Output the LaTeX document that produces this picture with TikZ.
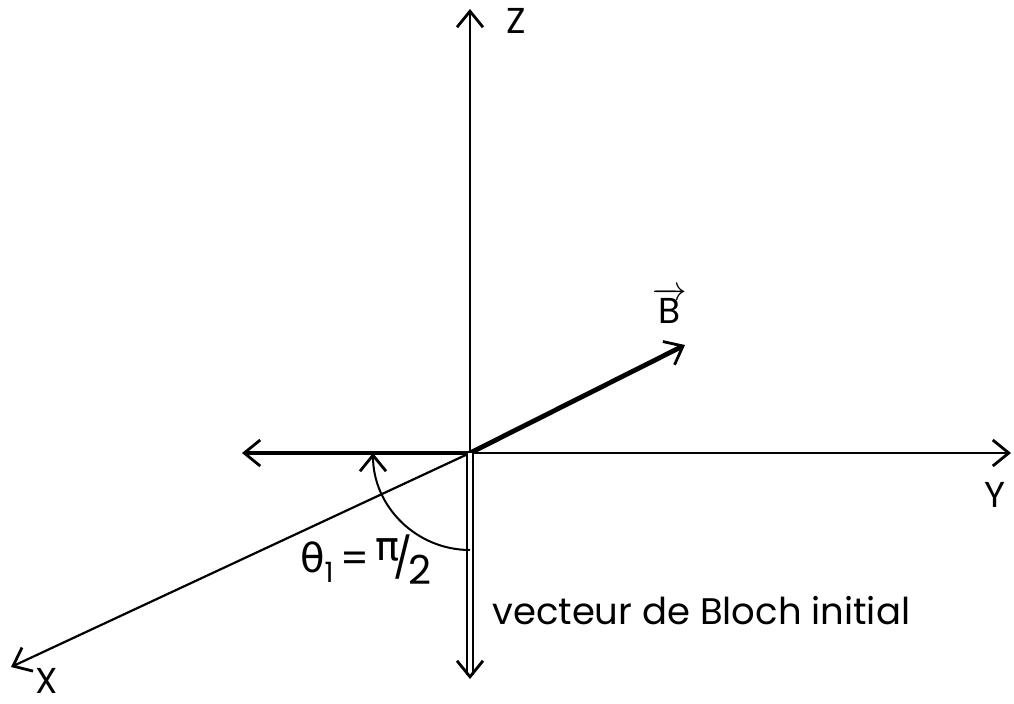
\documentclass[tikz,border=0pt]{standalone}
\usepackage{fontspec}
\setmainfont{Poppins}
\newfontfamily\grk{DejaVu Sans}
\usetikzlibrary{arrows.meta}
\tikzset{
  tip/.style={-{Straight Barb[length=8pt,width=13pt,line width=1.4pt]}},
  axe/.style={tip, line width=1.1pt},
  fort/.style={tip, line width=2.4pt},
  bloch/.style={tip, double, line width=1pt, double distance=1.6pt},
  lbl/.style={font=\fontsize{18}{20}\selectfont, inner sep=0pt},
  txt/.style={font=\fontsize{18.5}{20}\selectfont, inner sep=1pt},
}
\begin{document}
\begin{tikzpicture}[x=0.5pt, y=-0.5pt]
  \useasboundingbox (0,0) rectangle (1014,703);
  % axes
  \coordinate (o) at (470,453);
  \coordinate (zt) at (470,9);
  \coordinate (yr) at (1011,453);
  \coordinate (xt) at (11,667);
  \coordinate (yl) at (242,453);
  \coordinate (bt) at (685,345);
  \coordinate (bz) at (470,679);
  \coordinate (th) at (470,550);
  \draw[axe] (o) -- (zt);
  \draw[axe] (o) -- (yr);
  \draw[axe] (o) -- (xt);
  \draw[fort] (o) -- (yl);
  \draw[fort] (o) -- (bt);
  \draw[bloch] (o) -- (bz);
  \draw[tip, line width=1pt] (th) arc[start angle=90, end angle=180, radius=97];
  % labels
  \node[lbl] (lz) at (516,21) {Z};
  \node[lbl] (ly) at (995,495) {Y};
  \node[lbl] (lx) at (47,681) {X};
  \node[lbl] (lb) at (670,306) {$\overrightarrow{\mbox{B}}$};
  \node[lbl, font=\fontsize{20}{22}\selectfont] (lth) at (366,560)
    {{\grk θ}\raisebox{-0.45ex}{\fontsize{14}{16}\selectfont 1}\,=\,\raisebox{0.55ex}{\grk π}\kern-0.15em/\kern-0.1em\raisebox{-0.55ex}{2}};
  \node[txt, anchor=west] (lbloch) at (490,611) {vecteur de Bloch initial};
\end{tikzpicture}
\end{document}
